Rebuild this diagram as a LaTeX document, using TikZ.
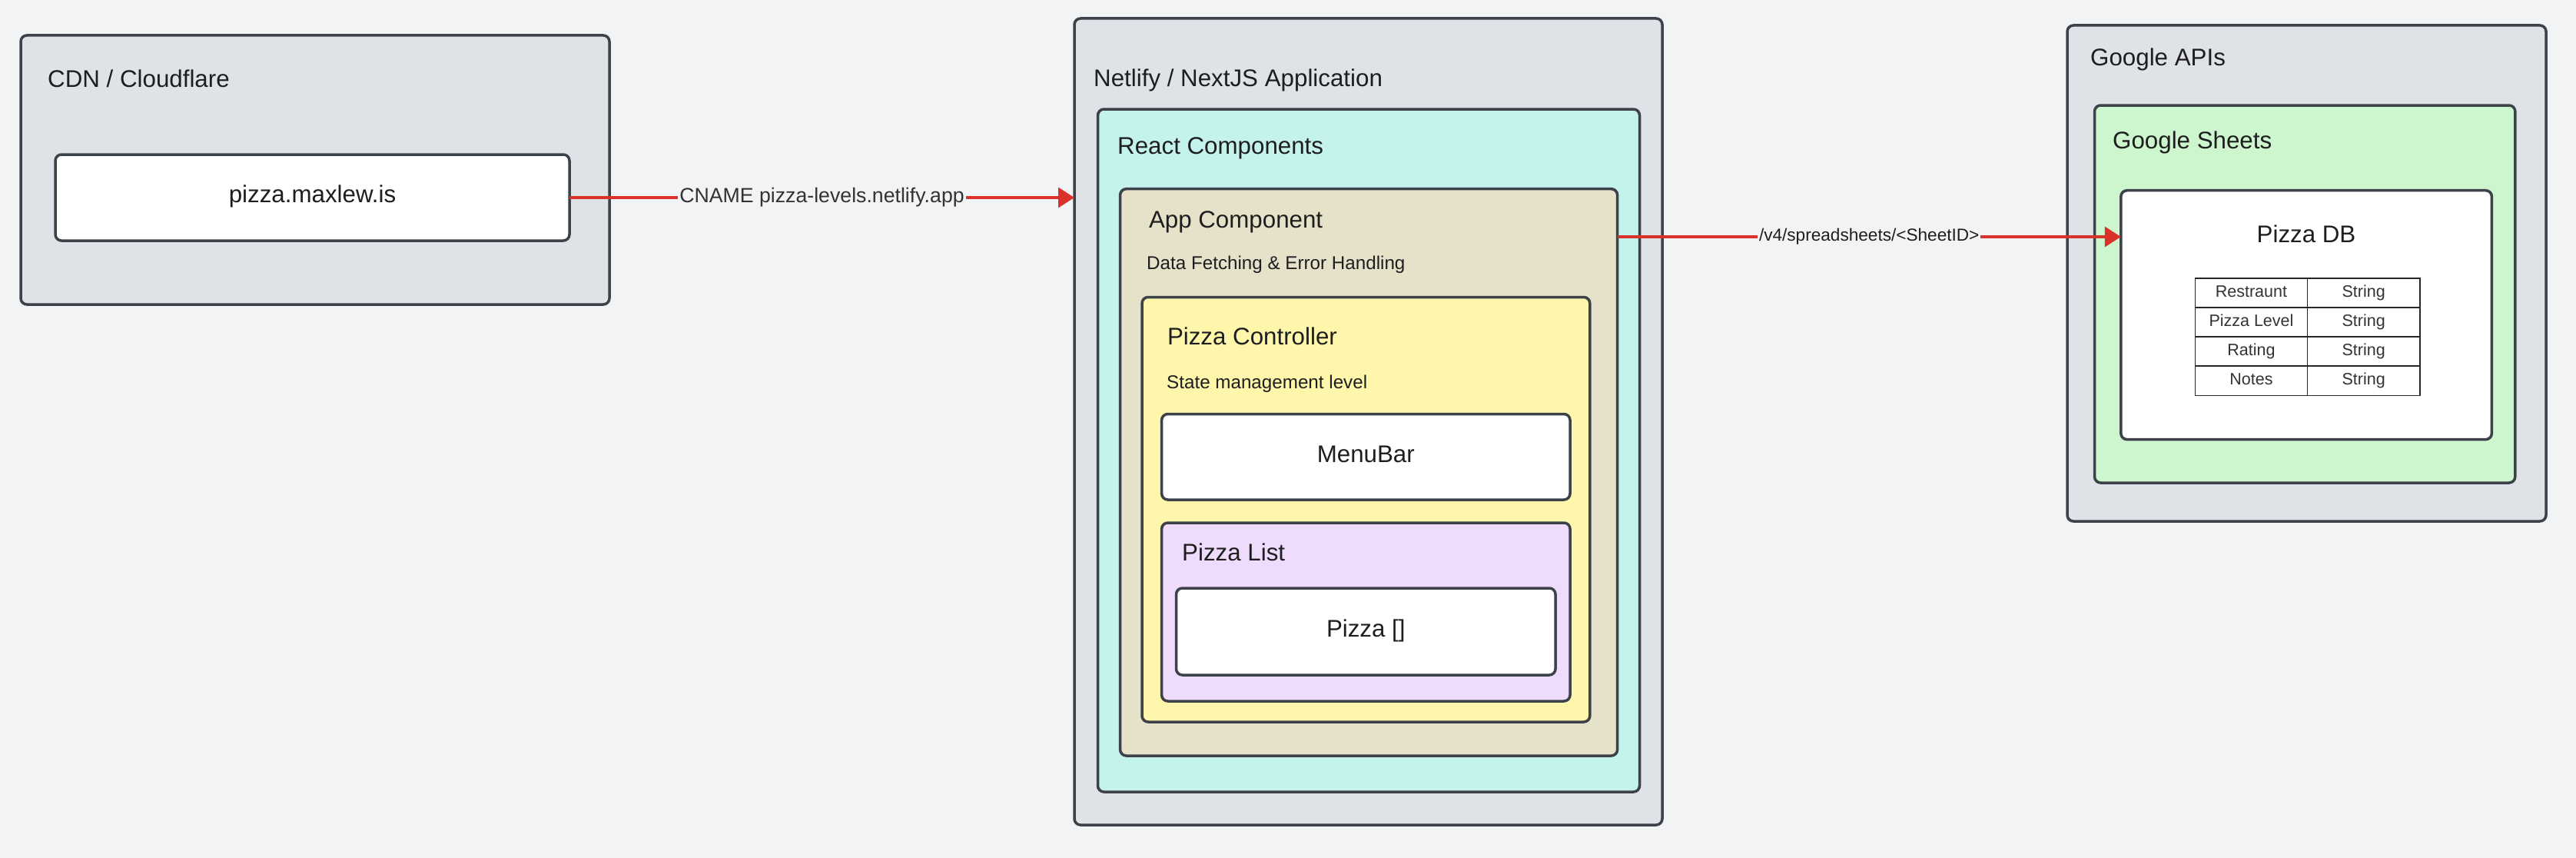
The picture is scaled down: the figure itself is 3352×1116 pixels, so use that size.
\documentclass[tikz,border=0pt]{standalone}
\usepackage{fontspec}
\setmainfont{Liberation Sans}
\usetikzlibrary{arrows.meta}
\definecolor{bg}{HTML}{F2F3F5}
\definecolor{cont}{HTML}{DFE2E7}
\definecolor{bord}{HTML}{3D4149}
\definecolor{mint}{HTML}{C4F2EC}
\definecolor{beige}{HTML}{E6E1C9}
\definecolor{yel}{HTML}{FEF7AB}
\definecolor{lav}{HTML}{EFDCFC}
\definecolor{lgreen}{HTML}{CDF5CE}
\definecolor{redl}{HTML}{D8322A}
\definecolor{txt}{HTML}{1E1E1E}
\definecolor{ltxt}{HTML}{333333}
\tikzset{
  box/.style={draw=bord, line width=3.5pt, rounded corners=8pt, inner sep=0pt, outer sep=0pt, anchor=north west},
  ttl/.style={inner sep=0pt, anchor=base west, text=txt, font=\fontsize{31.3}{36}\selectfont},
  ctr/.style={inner sep=0pt, anchor=base, text=txt, font=\fontsize{31.3}{36}\selectfont},
  sub/.style={inner sep=0pt, anchor=base west, text=txt, font=\fontsize{24.2}{29}\selectfont},
  conn/.style={draw=redl, line width=3.5pt, -{Triangle[length=21pt,width=26pt]}},
  lab/.style={fill=bg, inner xsep=2pt, inner ysep=1pt, text=ltxt},
  cell/.style={draw=black!85, line width=1.5pt, fill=white, minimum width=146.2pt, minimum height=38.05pt, inner sep=0pt, text height=15pt, text depth=4pt, text=ltxt, font=\fontsize{21.5}{25}\selectfont, anchor=north west}
}
\begin{document}
\begin{tikzpicture}[x=1pt,y=-1pt]
\useasboundingbox[fill=bg] (0,0) rectangle (3352,1116);

% CDN
\node[box, fill=cont, minimum width=766pt, minimum height=350pt] (cdn) at (27,46) {};
\node[ttl] (cdnt) at (62,113.3) {CDN / Cloudflare};
\node[box, fill=white, minimum width=669pt, minimum height=112pt] (site) at (72,201) {};
\node[ctr] (sitet) at (406.5,263.3) {pizza.maxlew.is};

% Netlify
\node[box, fill=cont, minimum width=765pt, minimum height=1049pt] (netlify) at (1398,24) {};
\node[ttl] (netlifyt) at (1423,112.9) {Netlify / NextJS Application};
\node[box, fill=mint, minimum width=705pt, minimum height=888pt] (react) at (1428.5,142) {};
\node[ttl] (reactt) at (1454,200.9) {React Components};
\node[box, fill=beige, minimum width=647pt, minimum height=737.3pt] (app) at (1457.6,245.7) {};
\node[ttl] (appt) at (1494.8,296.6) {App Component};
\node[sub] (apps) at (1492,350.2) {Data Fetching \& Error Handling};
\node[box, fill=yel, minimum width=582.8pt, minimum height=552.5pt] (ctrl) at (1486,386.5) {};
\node[ttl] (ctrlt) at (1518.8,448.5) {Pizza Controller};
\node[sub] (ctrls) at (1518,505.2) {State management level};
\node[box, fill=white, minimum width=531.4pt, minimum height=111.5pt] (menubar) at (1511.6,538.5) {};
\node[ctr] (menubart) at (1777.3,601.4) {MenuBar};
\node[box, fill=lav, minimum width=531.4pt, minimum height=232pt] (plist) at (1511.6,680) {};
\node[ttl] (plistt) at (1538,729.6) {Pizza List};
\node[box, fill=white, minimum width=493.5pt, minimum height=113pt] (pizza) at (1530.5,765) {};
\node[ctr] (pizzat) at (1777.3,828.4) {Pizza []};

% Google
\node[box, fill=cont, minimum width=623pt, minimum height=645pt] (gapis) at (2690,33) {};
\node[ttl] (gapist) at (2720,85) {Google APIs};
\node[box, fill=lgreen, minimum width=547.3pt, minimum height=491pt] (gsheets) at (2725.5,137) {};
\node[ttl] (gsheetst) at (2749,193.5) {Google Sheets};
\node[box, fill=white, minimum width=482.6pt, minimum height=323.9pt] (db) at (2759.8,247.7) {};
\node[ctr] (dbt) at (3001,315) {Pizza DB};

% table
\node[cell] (r1a) at (2855.6,361.3) {Restraunt};
\node[cell] (r1b) at (3001.8,361.3) {String};
\node[cell] (r2a) at (2855.6,399.35) {Pizza Level};
\node[cell] (r2b) at (3001.8,399.35) {String};
\node[cell] (r3a) at (2855.6,437.4) {Rating};
\node[cell] (r3b) at (3001.8,437.4) {String};
\node[cell] (r4a) at (2855.6,475.45) {Notes};
\node[cell] (r4b) at (3001.8,475.45) {String};

% connectors
\coordinate (lvlB) at (0,308);
\draw[conn] (site.east) -- (site.east -| netlify.west)
  node[midway, lab, font=\fontsize{26.7}{31}\selectfont] (l1) {CNAME pizza-levels.netlify.app};
\draw[conn] (app.east |- lvlB) -- (db.west |- lvlB)
  node[midway, lab, text=txt, font=\fontsize{22.6}{27}\selectfont] (l2) {/v4/spreadsheets/<SheetID>};
\end{tikzpicture}
\end{document}
